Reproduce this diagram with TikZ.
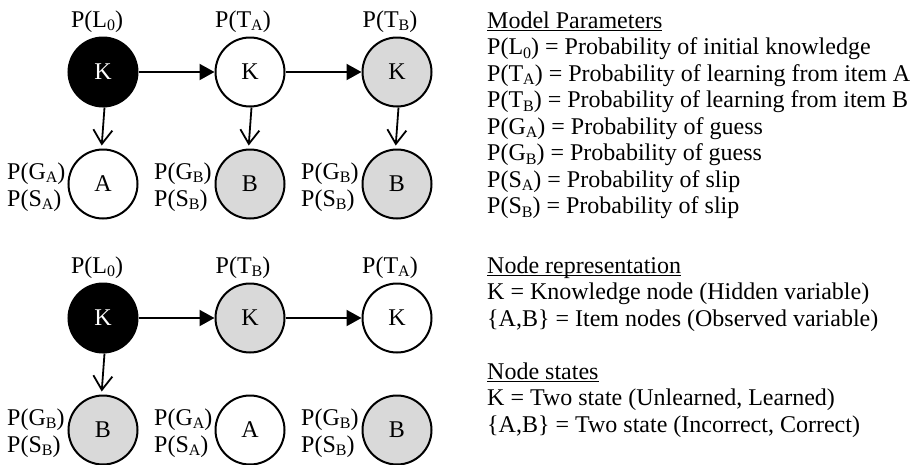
\documentclass[tikz,border=0pt]{standalone}
\usepackage{fontspec}
\setmainfont{Liberation Serif}
\usetikzlibrary{arrows.meta}
\definecolor{shadegray}{RGB}{217,217,217}
% subscripts set smaller and lowered
\newcommand\sbs[1]{\raisebox{-3.5pt}{\fontsize{16}{16}\selectfont #1}}
% underline at a fixed depth below the baseline
\newcommand\ulx[1]{\setbox0\hbox{#1}\rlap{\rule[-2.8pt]{\wd0}{1.2pt}}\box0}
\newcommand\pr[2]{P(#1\sbs{#2})}

\begin{document}
\begin{tikzpicture}[x=1pt,y=-1pt,
  state/.style={circle, draw, line width=2pt, minimum size=69pt, inner sep=0pt,
                font=\fontsize{24}{26}\selectfont},
  known/.style={state, fill=black, text=white},
  blank/.style={state, fill=white},
  shaded/.style={state, fill=shadegray},
  lbl/.style={inner sep=0pt, font=\fontsize{24}{26}\selectfont},
  trans/.style={line width=2pt, -{Triangle[length=15pt,width=16pt]}},
  emit/.style={line width=1.8pt, -{Straight Barb[length=14pt,width=19pt,line width=1.8pt]}, shorten >=3pt}]
\useasboundingbox (0,0) rectangle (919,464);

% ---- first sequence: A then B then B ----
\node[known]  (k1) at (103,72)  {K};
\node[blank]  (k2) at (250,72)  {K};
\node[shaded] (k3) at (397,72)  {K};
\node[blank]  (i1) at (103,184) {A};
\node[shaded] (i2) at (250,184) {B};
\node[shaded] (i3) at (397,184) {B};

\node[lbl, anchor=base] (p1) at (97,27)  {\pr{L}{0}};
\node[lbl, anchor=base] (p2) at (243,27) {\pr{T}{A}};
\node[lbl, anchor=base] (p3) at (390,27) {\pr{T}{B}};

\node[lbl, anchor=base west] (g1) at (7,179)   {\pr{G}{A}};
\node[lbl, anchor=base west] (s1) at (7,206)   {\pr{S}{A}};
\node[lbl, anchor=base west] (g2) at (154,179) {\pr{G}{B}};
\node[lbl, anchor=base west] (s2) at (154,206) {\pr{S}{B}};
\node[lbl, anchor=base west] (g3) at (301,179) {\pr{G}{B}};
\node[lbl, anchor=base west] (s3) at (301,206) {\pr{S}{B}};

\draw[trans] (k1) -- (k2);
\draw[trans] (k2) -- (k3);
\draw[emit] ([xshift=1.5pt]k1.south) -- ([xshift=-1.5pt]i1.north);
\draw[emit] ([xshift=1.5pt]k2.south) -- ([xshift=-1.5pt]i2.north);
\draw[emit] ([xshift=1.5pt]k3.south) -- ([xshift=-1.5pt]i3.north);

% ---- second sequence: B then A then B ----
\node[known]  (m1) at (103,318) {K};
\node[shaded] (m2) at (250,318) {K};
\node[blank]  (m3) at (397,318) {K};
\node[shaded] (j1) at (103,430) {B};
\node[blank]  (j2) at (250,430) {A};
\node[shaded] (j3) at (397,430) {B};

\node[lbl, anchor=base] (q1) at (97,273)  {\pr{L}{0}};
\node[lbl, anchor=base] (q2) at (243,273) {\pr{T}{B}};
\node[lbl, anchor=base] (q3) at (390,273) {\pr{T}{A}};

\node[lbl, anchor=base west] (h1) at (7,425)   {\pr{G}{B}};
\node[lbl, anchor=base west] (t1) at (7,452)   {\pr{S}{B}};
\node[lbl, anchor=base west] (h2) at (154,425) {\pr{G}{A}};
\node[lbl, anchor=base west] (t2) at (154,452) {\pr{S}{A}};
\node[lbl, anchor=base west] (h3) at (301,425) {\pr{G}{B}};
\node[lbl, anchor=base west] (t3) at (301,452) {\pr{S}{B}};

\draw[trans] (m1) -- (m2);
\draw[trans] (m2) -- (m3);
\draw[emit] ([xshift=1.5pt]m1.south) -- ([xshift=-1.5pt]j1.north);

% ---- legend ----
\node[lbl, anchor=base west] (mp)  at (487,28)    {\ulx{Model Parameters}};
\node[lbl, anchor=base west] (mp1) at (487,54.5)  {\pr{L}{0} = Probability of initial knowledge};
\node[lbl, anchor=base west] (mp2) at (487,81)    {\pr{T}{A} = Probability of learning from item A};
\node[lbl, anchor=base west] (mp3) at (487,107.5) {\pr{T}{B} = Probability of learning from item B};
\node[lbl, anchor=base west] (mp4) at (487,134)   {\pr{G}{A} = Probability of guess};
\node[lbl, anchor=base west] (mp5) at (487,160.5) {\pr{G}{B} = Probability of guess};
\node[lbl, anchor=base west] (mp6) at (487,187)   {\pr{S}{A} = Probability of slip};
\node[lbl, anchor=base west] (mp7) at (487,213.5) {\pr{S}{B} = Probability of slip};

\node[lbl, anchor=base west] (nr)  at (487,273)   {\ulx{Node representation}};
\node[lbl, anchor=base west] (nr1) at (487,299.5) {K = Knowledge node (Hidden variable)};
\node[lbl, anchor=base west] (nr2) at (487,326)   {\{A,B\} = Item nodes (Observed variable)};

\node[lbl, anchor=base west] (ns)  at (487,379)   {\ulx{Node states}};
\node[lbl, anchor=base west] (ns1) at (487,405.5) {K = Two state (Unlearned, Learned)};
\node[lbl, anchor=base west] (ns2) at (487,432)   {\{A,B\} = Two state (Incorrect, Correct)};
\end{tikzpicture}
\end{document}
